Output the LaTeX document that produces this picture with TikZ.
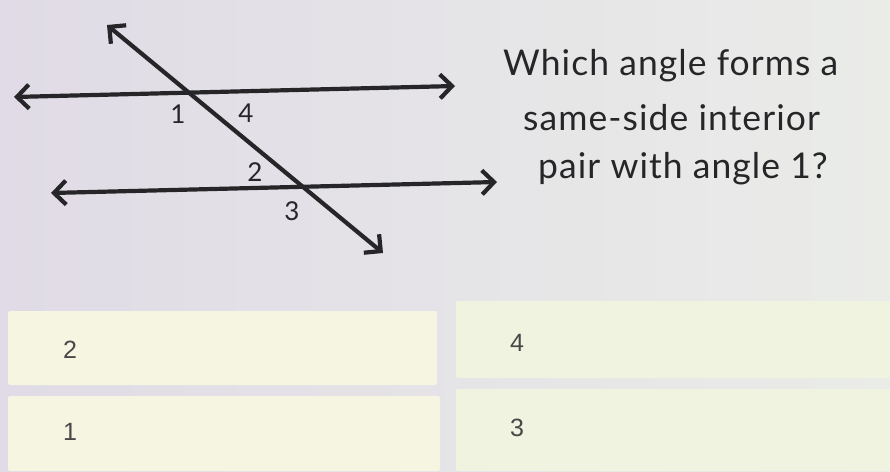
\documentclass[tikz,border=0pt]{standalone}
\usepackage{fontspec}
\setmainfont{Lato}
\newfontfamily\questionfont{Lato}[LetterSpace=3]
\newfontfamily\choicefont{Liberation Sans}
\usetikzlibrary{arrows.meta,math}
\definecolor{QuizInk}{RGB}{38,38,40}
\definecolor{QuizBack}{RGB}{224,219,230}
\definecolor{QuizBackRight}{RGB}{234,236,232}
\definecolor{QuizCream}{RGB}{245,245,226}
\definecolor{QuizCreamRight}{RGB}{240,243,224}
\definecolor{QuizGrey}{RGB}{72,72,72}
\tikzset{%
  geo line/.style={line width=4.2pt, color=QuizInk,
    {Straight Barb[length=12pt,width=24pt]}-{Straight Barb[length=12pt,width=24pt]}},
  choice box/.style={rounded corners=2pt},
  angle label/.style={font=\fontsize{26}{28}\selectfont, text=QuizInk, inner sep=0pt},
  question/.style={font=\questionfont\fontsize{35.5}{38}\selectfont, text=QuizInk, inner sep=0pt, anchor=base west},
  choice label/.style={font=\choicefont\fontsize{25}{28}\selectfont, text=QuizGrey, inner sep=0pt}
}

\begin{document}
\begin{tikzpicture}[x=1pt,y=-1pt]
    \tikzmath{
      \midx=447; % gap between the two answer columns
      \rowA=301; \rowB=389; % tops of the answer rows
    }
    % background
    \shade[left color=QuizBack, right color=QuizBackRight] (0,0) rectangle (890,471);
    \useasboundingbox (0,0) rectangle (890,471);
    % Figure:
    \coordinate (upperL) at (14,97);
    \coordinate (upperR) at (455,86);
    \coordinate (lowerL) at (51,193);
    \coordinate (lowerR) at (497,182);
    \coordinate (transT) at (107,25);
    \coordinate (transB) at (383,253);
    \draw[geo line] (upperL) -- (upperR);
    \draw[geo line] (lowerL) -- (lowerR);
    \draw[geo line] (transT) -- (transB);
    \node[angle label] (ang1) at (178,114) {1};
    \node[angle label] (ang4) at (246,113) {4};
    \node[angle label] (ang2) at (255,172) {2};
    \node[angle label] (ang3) at (292,211) {3};
    % Question:
    \node[question] (q1) at (503,75) {Which angle forms a};
    \node[question] (q2) at (523,130) {same-side interior};
    \node[question] (q3) at (538,178) {pair with angle 1?};
    % Answers:
    \fill[choice box, fill=QuizCream] (8,311) rectangle (\midx-10,385);
    \fill[choice box, fill=QuizCreamRight] (\midx+9,\rowA) rectangle (890,378);
    \fill[choice box, fill=QuizCream] (8,396) rectangle (\midx-7,471);
    \fill[choice box, fill=QuizCreamRight] (\midx+9,\rowB) rectangle (890,471);
    \node[choice label] (optA) at (70,350) {2};
    \node[choice label] (optB) at (517,343) {4};
    \node[choice label] (optC) at (70,432) {1};
    \node[choice label] (optD) at (517,428) {3};
\end{tikzpicture}
\end{document}
